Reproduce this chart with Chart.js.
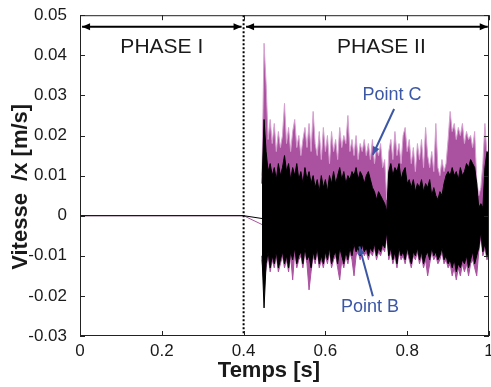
<!DOCTYPE html>
<html>
<head>
<meta charset="utf-8">
<script src="https://cdn.jsdelivr.net/npm/chart.js@4.4.1/dist/chart.umd.min.js"></script>
<style>
  body { margin: 0; background: #fff; }
</style>
</head>
<body>
<canvas id="chartVitesse" width="491" height="387"></canvas>
<script>
// phase I : signal au repos
const tempsDebut = [0, 0.4, 0.445];
const vitesseDebutB = [0, 0, -0.0007];
const vitesseDebutC = [0, 0, -0.0022];

// phase II : enveloppes (max / min)
const temps = [
  0.445, 0.45, 0.455, 0.46, 0.465, 0.47, 0.475, 0.48, 0.485, 0.49,
  0.495, 0.5, 0.505, 0.51, 0.515, 0.52, 0.525, 0.53, 0.535, 0.54,
  0.545, 0.55, 0.555, 0.56, 0.565, 0.57, 0.575, 0.58, 0.585, 0.59,
  0.595, 0.6, 0.605, 0.61, 0.615, 0.62, 0.625, 0.63, 0.635, 0.64,
  0.645, 0.65, 0.655, 0.66, 0.665, 0.67, 0.675, 0.68, 0.685, 0.69,
  0.695, 0.7, 0.705, 0.71, 0.715, 0.72, 0.725, 0.73, 0.735, 0.74,
  0.745, 0.75, 0.755, 0.76, 0.765, 0.77, 0.775, 0.78, 0.785, 0.79,
  0.795, 0.8, 0.805, 0.81, 0.815, 0.82, 0.825, 0.83, 0.835, 0.84,
  0.845, 0.85, 0.855, 0.86, 0.865, 0.87, 0.875, 0.88, 0.885, 0.89,
  0.895, 0.9, 0.905, 0.91, 0.915, 0.92, 0.925, 0.93, 0.935, 0.94,
  0.945, 0.95, 0.955, 0.96, 0.965, 0.97, 0.975, 0.98, 0.985, 0.99,
  0.995, 1.0
];

const maxPointC = [
  0.010, 0.043, 0.033, 0.019, 0.024, 0.018, 0.023, 0.016, 0.021, 0.017,
  0.020, 0.028, 0.018, 0.022, 0.016, 0.021, 0.024, 0.017, 0.020, 0.015,
  0.019, 0.022, 0.017, 0.023, 0.016, 0.026, 0.018, 0.015, 0.021, 0.014,
  0.022, 0.016, 0.020, 0.013, 0.021, 0.016, 0.019, 0.014, 0.022, 0.017,
  0.020, 0.018, 0.025, 0.016, 0.019, 0.015, 0.020, 0.014, 0.018, 0.016,
  0.019, 0.015, 0.018, 0.014, 0.019, 0.013, 0.017, 0.015, 0.018, 0.012,
  0.014, 0.004, 0.016, 0.019, 0.014, 0.021, 0.015, 0.018, 0.013, 0.020,
  0.022, 0.016, 0.019, 0.013, 0.017, 0.011, 0.018, 0.014, 0.019, 0.012,
  0.022, 0.015, 0.012, 0.016, 0.011, 0.023, 0.012, 0.010, 0.014, 0.011,
  0.013, 0.019, 0.026, 0.021, 0.023, 0.019, 0.022, 0.020, 0.023, 0.018,
  0.021, 0.019, 0.020, 0.017, 0.021, 0.009, 0.005, 0.007, 0.013, 0.023,
  0.015, 0.017
];
const minPointC = [
  -0.011, -0.017, -0.013, -0.010, -0.014, -0.011, -0.013, -0.010, -0.014, -0.012,
  -0.010, -0.013, -0.011, -0.014, -0.010, -0.016, -0.009, -0.013, -0.011, -0.010,
  -0.013, -0.009, -0.012, -0.0185, -0.014, -0.010, -0.012, -0.009, -0.013, -0.011,
  -0.013, -0.010, -0.012, -0.009, -0.013, -0.011, -0.010, -0.013, -0.016, -0.011,
  -0.013, -0.010, -0.012, -0.009, -0.011, -0.015, -0.010, -0.009, -0.011, -0.008,
  -0.010, -0.009, -0.011, -0.009, -0.010, -0.008, -0.011, -0.009, -0.010, -0.008,
  -0.009, -0.005, -0.011, -0.009, -0.012, -0.010, -0.013, -0.009, -0.011, -0.010,
  -0.012, -0.009, -0.011, -0.013, -0.010, -0.011, -0.009, -0.012, -0.010, -0.013,
  -0.011, -0.015, -0.012, -0.009, -0.011, -0.010, -0.012, -0.011, -0.009, -0.012,
  -0.011, -0.013, -0.012, -0.015, -0.013, -0.016, -0.013, -0.015, -0.012, -0.014,
  -0.012, -0.015, -0.012, -0.011, -0.013, -0.015, -0.009, -0.005, -0.010, -0.008,
  -0.011, -0.010
];
const maxPointB = [
  0.008, 0.024, 0.016, 0.011, 0.013, 0.010, 0.012, 0.009, 0.013, 0.010,
  0.012, 0.015, 0.011, 0.013, 0.009, 0.012, 0.010, 0.013, 0.009, 0.011,
  0.008, 0.012, 0.009, 0.011, 0.008, 0.010, 0.007, 0.009, 0.006, 0.010,
  0.007, 0.009, 0.006, 0.010, 0.008, 0.011, 0.008, 0.010, 0.012, 0.009,
  0.011, 0.008, 0.010, 0.009, 0.011, 0.010, 0.012, 0.009, 0.011, 0.010,
  0.008, 0.010, 0.011, 0.009, 0.007, 0.006, 0.004, 0.006, 0.005, 0.004,
  0.003, 0.001, 0.011, 0.013, 0.010, 0.012, 0.011, 0.013, 0.009, 0.011,
  0.012, 0.008, 0.009, 0.007, 0.009, 0.006, 0.008, 0.007, 0.009, 0.006,
  0.008, 0.007, 0.009, 0.005, 0.007, 0.005, 0.004, 0.006, 0.005, 0.008,
  0.010, 0.011, 0.010, 0.012, 0.010, 0.011, 0.009, 0.012, 0.010, 0.011,
  0.013, 0.012, 0.014, 0.013, 0.012, 0.008, 0.002, 0.003, 0.002, 0.012,
  0.016, 0.015
];
const minPointB = [
  -0.010, -0.023, -0.012, -0.009, -0.013, -0.010, -0.012, -0.009, -0.013, -0.011,
  -0.009, -0.012, -0.010, -0.013, -0.009, -0.011, -0.008, -0.012, -0.010, -0.009,
  -0.012, -0.008, -0.011, -0.010, -0.013, -0.009, -0.011, -0.008, -0.012, -0.010,
  -0.012, -0.009, -0.011, -0.008, -0.012, -0.010, -0.009, -0.012, -0.008, -0.010,
  -0.012, -0.009, -0.011, -0.008, -0.010, -0.007, -0.009, -0.008, -0.010, -0.007,
  -0.009, -0.008, -0.010, -0.008, -0.009, -0.007, -0.010, -0.008, -0.009, -0.007,
  -0.008, -0.004, -0.010, -0.008, -0.011, -0.009, -0.012, -0.008, -0.010, -0.009,
  -0.011, -0.008, -0.010, -0.012, -0.009, -0.010, -0.008, -0.011, -0.009, -0.012,
  -0.010, -0.009, -0.011, -0.008, -0.010, -0.009, -0.011, -0.010, -0.008, -0.011,
  -0.010, -0.012, -0.011, -0.013, -0.011, -0.014, -0.012, -0.013, -0.011, -0.012,
  -0.010, -0.013, -0.011, -0.009, -0.012, -0.010, -0.008, -0.004, -0.009, -0.007,
  -0.010, -0.009
];

const police = '"Liberation Sans", Arial, Helvetica, sans-serif';
const violet = 'rgb(170,82,160)';
const violetClair = 'rgb(214,160,208)';
const bleu = '#3b57a6';

function points(xs, ys) {
  return xs.map((t, i) => ({ x: t, y: ys[i] }));
}

function fleche(ctx, x1, y1, x2, y2, deuxTetes) {
  const ang = Math.atan2(y2 - y1, x2 - x1);
  const L = 8, W = 3.5;
  ctx.beginPath();
  ctx.moveTo(x1, y1);
  ctx.lineTo(x2, y2);
  ctx.stroke();
  const tete = (x, y, a) => {
    ctx.beginPath();
    ctx.moveTo(x, y);
    ctx.lineTo(x - L * Math.cos(a) + W * Math.sin(a), y - L * Math.sin(a) - W * Math.cos(a));
    ctx.lineTo(x - L * Math.cos(a) - W * Math.sin(a), y - L * Math.sin(a) + W * Math.cos(a));
    ctx.closePath();
    ctx.fill();
  };
  tete(x2, y2, ang);
  if (deuxTetes) tete(x1, y1, ang + Math.PI);
}

const decor = {
  id: 'decor',
  afterDatasetsDraw(chart) {
    const { ctx, chartArea: a, scales: { x, y } } = chart;
    ctx.save();

    // separation des phases
    const x04 = x.getPixelForValue(0.4);
    ctx.strokeStyle = '#000';
    ctx.lineWidth = 2;
    ctx.setLineDash([2, 2]);
    ctx.beginPath();
    ctx.moveTo(x04, a.top);
    ctx.lineTo(x04, a.bottom);
    ctx.stroke();
    ctx.setLineDash([]);

    // cadre + graduations vers l'interieur
    ctx.strokeStyle = '#222';
    ctx.lineWidth = 1;
    ctx.strokeRect(a.left + 0.5, a.top + 0.5, a.width - 1, a.height - 1);
    ctx.beginPath();
    y.ticks.forEach(t => {
      const py = Math.round(y.getPixelForValue(t.value)) + 0.5;
      ctx.moveTo(a.left, py); ctx.lineTo(a.left + 5, py);
      ctx.moveTo(a.right, py); ctx.lineTo(a.right - 5, py);
    });
    x.ticks.forEach(t => {
      const px = Math.round(x.getPixelForValue(t.value)) + 0.5;
      ctx.moveTo(px, a.bottom); ctx.lineTo(px, a.bottom - 5);
      ctx.moveTo(px, a.top); ctx.lineTo(px, a.top + 5);
    });
    ctx.stroke();

    // fleches des phases
    ctx.fillStyle = '#000';
    ctx.strokeStyle = '#000';
    ctx.lineWidth = 2;
    const yF = y.getPixelForValue(0.0471);
    fleche(ctx, x.getPixelForValue(0.005), yF, x.getPixelForValue(0.395), yF, true);
    fleche(ctx, x.getPixelForValue(0.406), yF, x.getPixelForValue(0.997), yF, true);

    ctx.font = '21px ' + police;
    ctx.textAlign = 'center';
    ctx.textBaseline = 'middle';
    ctx.fillStyle = '#1a1a1a';
    ctx.fillText('PHASE I', x.getPixelForValue(0.2), y.getPixelForValue(0.0419));
    ctx.fillText('PHASE II', x.getPixelForValue(0.737), y.getPixelForValue(0.0419));

    // titres des axes
    ctx.font = 'bold 22px ' + police;
    ctx.fillText('Temps [s]', x.getPixelForValue(0.462), 371);
    ctx.save();
    ctx.translate(21, y.getPixelForValue(0.0072));
    ctx.rotate(-Math.PI / 2);
    ctx.fillText('Vitesse  /x [m/s]', 0, 0);
    ctx.restore();

    // annotations des points
    ctx.fillStyle = bleu;
    ctx.strokeStyle = bleu;
    ctx.lineWidth = 2;
    ctx.font = '18px ' + police;
    ctx.fillText('Point C', x.getPixelForValue(0.763), y.getPixelForValue(0.0301));
    fleche(ctx, x.getPixelForValue(0.768), y.getPixelForValue(0.0266),
                x.getPixelForValue(0.716), y.getPixelForValue(0.0152), false);
    ctx.fillText('Point B', x.getPixelForValue(0.709), y.getPixelForValue(-0.0227));
    fleche(ctx, x.getPixelForValue(0.716), y.getPixelForValue(-0.0201),
                x.getPixelForValue(0.683), y.getPixelForValue(-0.0077), false);

    ctx.restore();
  }
};

const ctx = document.getElementById('chartVitesse').getContext('2d');

new Chart(ctx, {
  type: 'line',
  data: {
    datasets: [
      {
        data: points(temps, maxPointB),
        borderColor: '#000',
        backgroundColor: '#000',
        borderWidth: 1,
        fill: '+1'
      },
      {
        data: points(temps, minPointB),
        borderColor: '#000',
        borderWidth: 1,
        fill: false
      },
      {
        data: points(temps, maxPointC),
        borderColor: violetClair,
        backgroundColor: violet,
        borderWidth: 1,
        fill: '+1'
      },
      {
        data: points(temps, minPointC),
        borderColor: violet,
        borderWidth: 1,
        fill: false
      },
      {
        data: points(tempsDebut, vitesseDebutB),
        borderColor: '#000',
        borderWidth: 1,
        fill: false
      },
      {
        data: points(tempsDebut, vitesseDebutC),
        borderColor: violet,
        borderWidth: 1,
        fill: false
      }
    ]
  },
  options: {
    responsive: false,
    animation: false,
    events: [],
    elements: { point: { radius: 0 }, line: { tension: 0 } },
    layout: { padding: { top: 13, right: 2, left: 0, bottom: 0 } },
    plugins: { legend: { display: false }, tooltip: { enabled: false } },
    scales: {
      x: {
        type: 'linear',
        min: 0,
        max: 1,
        grid: { display: false },
        border: { display: false },
        afterFit: s => { s.height = 51; },
        ticks: {
          stepSize: 0.2,
          padding: -3,
          color: '#1a1a1a',
          font: { family: police, size: 17 },
          maxRotation: 0,
          callback: v => parseFloat(v.toFixed(1)).toString()
        }
      },
      y: {
        min: -0.03,
        max: 0.05,
        grid: { display: false },
        border: { display: false },
        afterFit: s => { s.width = 80; },
        ticks: {
          stepSize: 0.01,
          padding: 5,
          color: '#1a1a1a',
          font: { family: police, size: 17 },
          callback: v => parseFloat(v.toFixed(2)).toString()
        }
      }
    }
  },
  plugins: [decor]
});
</script>
</body>
</html>
